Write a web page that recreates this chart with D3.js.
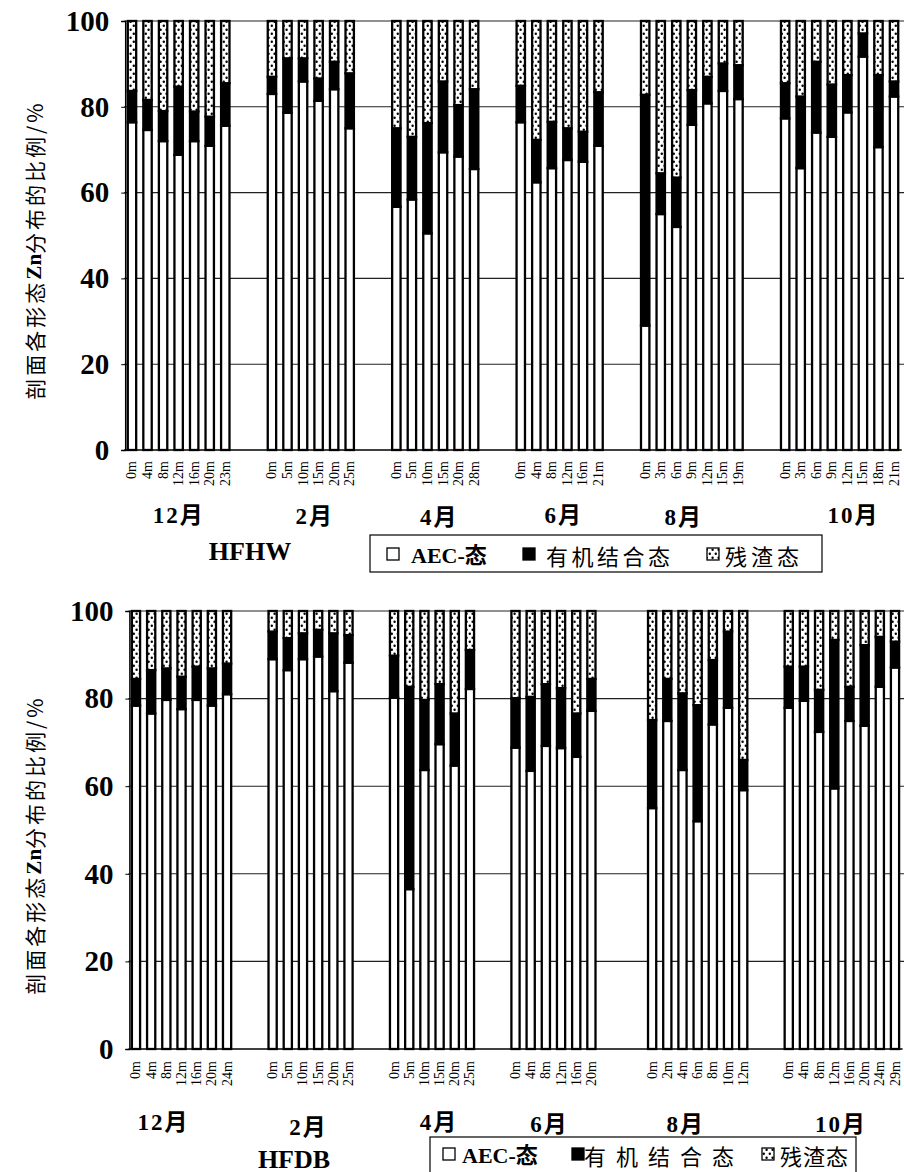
<!DOCTYPE html>
<html>
<head>
<meta charset="utf-8">
<script src="https://cdn.jsdelivr.net/npm/d3@7"></script>
<style>
  body { margin: 0; background: #fff; }
  svg { display: block; }
</style>
</head>
<body>
<svg id="chart" width="904" height="1172"></svg>
<script>
// months and depths per panel
const months = ["12月", "2月", "4月", "6月", "8月", "10月"];

const hfhwDepths = [
  ["0m", "4m", "8m", "12m", "16m", "20m", "23m"],
  ["0m", "5m", "10m", "15m", "20m", "25m"],
  ["0m", "5m", "10m", "15m", "20m", "28m"],
  ["0m", "4m", "8m", "12m", "16m", "21m"],
  ["0m", "3m", "6m", "9m", "12m", "15m", "19m"],
  ["0m", "3m", "6m", "9m", "12m", "15m", "18m", "21m"]
];
const hfdbDepths = [
  ["0m", "4m", "8m", "12m", "16m", "20m", "24m"],
  ["0m", "5m", "10m", "15m", "20m", "25m"],
  ["0m", "5m", "10m", "15m", "20m", "25m"],
  ["0m", "4m", "8m", "12m", "16m", "20m"],
  ["0m", "2m", "4m", "6m", "8m", "10m", "12m"],
  ["0m", "4m", "8m", "12m", "16m", "20m", "24m", "29m"]
];

// AEC-态 share (%)
const hfhwAec = [
  [76.4, 74.6, 72.0, 68.8, 72.0, 70.9, 75.6],
  [83.0, 78.6, 85.9, 81.4, 84.1, 75.0],
  [56.7, 58.4, 50.5, 69.4, 68.4, 65.5],
  [76.4, 62.4, 65.7, 67.6, 67.2, 70.9],
  [29.0, 55.0, 52.0, 75.8, 80.8, 83.7, 81.8],
  [77.3, 65.7, 74.0, 73.0, 78.7, 91.7, 70.6, 82.4]
];
// 有机结合态 share (%)
const hfhwOrg = [
  [7.3, 7.0, 7.0, 15.9, 6.9, 6.8, 9.9],
  [4.0, 12.7, 5.4, 5.2, 6.4, 12.8],
  [18.3, 14.6, 25.7, 16.5, 12.0, 18.6],
  [8.5, 9.9, 10.8, 7.4, 7.0, 12.5],
  [53.8, 9.5, 11.5, 8.1, 6.2, 6.4, 7.9],
  [8.2, 16.7, 16.5, 12.2, 8.7, 5.4, 16.8, 3.5]
];

const hfdbAec = [
  [78.4, 76.6, 79.7, 77.6, 79.7, 78.4, 81.0],
  [89.0, 86.5, 89.0, 89.6, 81.7, 88.2],
  [80.2, 36.5, 63.7, 69.6, 64.7, 82.2],
  [68.8, 63.5, 69.2, 68.7, 66.7, 77.2],
  [55.0, 74.9, 63.7, 52.0, 74.1, 77.9, 59.1],
  [77.9, 79.5, 72.4, 59.5, 74.9, 73.8, 82.7, 87.1]
];
const hfdbOrg = [
  [6.1, 9.9, 7.2, 7.4, 7.6, 8.5, 7.0],
  [6.3, 7.3, 5.9, 6.1, 13.2, 6.3],
  [9.6, 46.2, 16.0, 13.7, 11.9, 8.9],
  [11.3, 16.9, 14.1, 13.7, 9.9, 7.3],
  [20.1, 9.6, 17.5, 26.5, 14.7, 17.4, 6.9],
  [9.4, 7.8, 9.6, 33.9, 7.8, 18.4, 11.4, 5.9]
];

// number of empty slots between month groups
const hfhwGaps = [2, 2, 2, 2, 2];
const hfdbGaps = [2, 2, 2, 3, 2];

const legendLabels = ["AEC-态", "有机结合态", "残渣态"];
const yTicks = [0, 20, 40, 60, 80, 100];

const panels = [
  {
    name: "HFHW", depths: hfhwDepths, aec: hfhwAec, org: hfhwOrg, gaps: hfhwGaps,
    x0: 124.2, x1: 901.8, yBottom: 450, yTop: 21, tickY: 461, monthY: 515,
    monthDx: [0, 4, 4, 4, -8, 14], monthDy: [0, 1, 2, 0, 2, 0],
    nameX: 250, nameY: 551, titleY: 250,
    legend: { x: 370, y: 535, w: 452, h: 37, cy: 554, sq: [387, 523, 707], tx: [411, 546, 725], ls: [0, 3.5, 4] }
  },
  {
    name: "HFDB", depths: hfdbDepths, aec: hfdbAec, org: hfdbOrg, gaps: hfdbGaps,
    x0: 128.4, x1: 902.6, yBottom: 1049, yTop: 611, tickY: 1061, monthY: 1122,
    monthDx: [-18, -2, 7, -4, -12, -1], monthDy: [0, 5, 0, 2, 2, 2],
    nameX: 294, nameY: 1159, titleY: 845,
    legend: { x: 430, y: 1137, w: 426, h: 40, cy: 1154, sq: [443, 572, 762], tx: [462, 584, 780], ls: [0, 10, 1] }
  }
];

const svg = d3.select("#chart");
const serif = "'Liberation Serif', 'Times New Roman', serif";
const cjk = "'Noto Sans CJK SC', sans-serif";

// dotted fill for 残渣态
const defs = svg.append("defs");
const pat = defs.append("pattern")
  .attr("id", "dots")
  .attr("patternUnits", "userSpaceOnUse")
  .attr("width", 6).attr("height", 8);
pat.append("rect").attr("width", 6).attr("height", 8).attr("fill", "#fff");
pat.append("circle").attr("cx", 1.8).attr("cy", 1.8).attr("r", 1.2).attr("fill", "#000");
pat.append("circle").attr("cx", 4.6).attr("cy", 5.8).attr("r", 1.2).attr("fill", "#000");

const fills = ["#fff", "#000", "url(#dots)"];

panels.forEach((p) => {
  // build slot list with blanks between groups
  const slots = [];
  const bars = [];
  p.depths.forEach((ds, gi) => {
    ds.forEach((d, i) => {
      const key = `${gi}-${i}`;
      slots.push(key);
      const a = p.aec[gi][i], o = p.org[gi][i];
      bars.push({ key, depth: d, group: gi, aec: a, org: o, res: 100 - a - o });
    });
    if (gi < p.gaps.length) {
      for (let k = 0; k < p.gaps[gi]; k++) slots.push(`gap${gi}-${k}`);
    }
  });

  const x = d3.scaleBand()
    .domain(slots)
    .range([p.x0, p.x1])
    .paddingInner(0.46)
    .paddingOuter(0.23);
  const y = d3.scaleLinear().domain([0, 100]).range([p.yBottom, p.yTop]);

  // grid lines
  svg.append("g")
    .selectAll("line")
    .data(yTicks.filter((t) => t > 0))
    .join("line")
    .attr("x1", p.x0).attr("x2", 904)
    .attr("y1", (d) => y(d)).attr("y2", (d) => y(d))
    .attr("stroke", "#222").attr("stroke-width", 1.1);

  // bars
  const stack = d3.stack().keys(["aec", "org", "res"]);
  const series = stack(bars);
  svg.append("g")
    .selectAll("g")
    .data(series)
    .join("g")
    .attr("fill", (s, i) => fills[i])
    .selectAll("rect")
    .data((s) => s)
    .join("rect")
    .attr("x", (d) => x(d.data.key))
    .attr("width", x.bandwidth())
    .attr("y", (d) => y(d[1]))
    .attr("height", (d) => y(d[0]) - y(d[1]))
    .attr("stroke", "#000")
    .attr("stroke-width", 2.3);

  // baseline
  svg.append("line")
    .attr("x1", p.x0).attr("x2", p.x1)
    .attr("y1", y(0)).attr("y2", y(0))
    .attr("stroke", "#000").attr("stroke-width", 1.5);

  // y axis
  const yAxis = d3.axisLeft(y).tickValues(yTicks).tickSize(4).tickPadding(12);
  const ga = svg.append("g")
    .attr("transform", `translate(${p.x0 + 1},0)`)
    .call(yAxis);
  ga.select(".domain").attr("stroke", "#000").attr("stroke-width", 1.5);
  ga.selectAll(".tick line").attr("stroke", "#000");
  ga.selectAll(".tick text")
    .attr("font-family", serif)
    .attr("font-weight", "bold")
    .attr("font-size", 29)
    .attr("fill", "#000");

  // depth labels
  svg.append("g")
    .selectAll("text")
    .data(bars)
    .join("text")
    .attr("transform", (d) => `translate(${x(d.key) + x.bandwidth() / 2},${p.tickY}) rotate(-90)`)
    .attr("text-anchor", "end")
    .attr("dominant-baseline", "central")
    .attr("font-family", serif)
    .attr("font-size", 14)
    .text((d) => d.depth);

  // month labels
  svg.append("g")
    .selectAll("text")
    .data(months)
    .join("text")
    .attr("x", (m, gi) => {
      const ks = bars.filter((b) => b.group === gi);
      const c = (x(ks[0].key) + x(ks[ks.length - 1].key) + x.bandwidth()) / 2;
      return c + p.monthDx[gi];
    })
    .attr("y", (m, gi) => p.monthY + p.monthDy[gi])
    .attr("text-anchor", "middle")
    .attr("dominant-baseline", "central")
    .attr("font-family", `${serif}, ${cjk}`)
    .attr("font-weight", "bold")
    .attr("font-size", 23)
    .attr("letter-spacing", 2)
    .text((m) => m);

  // panel name
  svg.append("text")
    .attr("x", p.nameX).attr("y", p.nameY)
    .attr("text-anchor", "middle")
    .attr("dominant-baseline", "central")
    .attr("font-family", serif)
    .attr("font-weight", "bold")
    .attr("font-size", 26)
    .text(p.name);

  // y title
  const tt = svg.append("text")
    .attr("transform", `translate(34,${p.titleY}) rotate(-90)`)
    .attr("text-anchor", "middle")
    .attr("dominant-baseline", "central")
    .attr("font-family", cjk)
    .attr("font-size", 21)
    .attr("letter-spacing", 3);
  tt.append("tspan").text("剖面各形态");
  tt.append("tspan").attr("font-family", serif).attr("font-weight", "bold").attr("letter-spacing", 0).text("Zn");
  tt.append("tspan").text("分布的比例/%");

  // legend
  const L = p.legend;
  const lg = svg.append("g");
  lg.append("rect")
    .attr("x", L.x).attr("y", L.y).attr("width", L.w).attr("height", L.h)
    .attr("fill", "#fff").attr("stroke", "#000").attr("stroke-width", 1.2);
  legendLabels.forEach((lab, i) => {
    lg.append("rect")
      .attr("x", L.sq[i]).attr("y", L.cy - 6).attr("width", 12).attr("height", 12)
      .attr("fill", fills[i]).attr("stroke", "#000").attr("stroke-width", 1.3);
    const t = lg.append("text")
      .attr("x", L.tx[i]).attr("y", L.cy + 1)
      .attr("dominant-baseline", "central")
      .attr("font-size", 22)
      .attr("letter-spacing", L.ls[i]);
    if (i === 0) {
      t.attr("font-family", `${serif}, ${cjk}`).attr("font-weight", "bold").text(lab);
    } else {
      t.attr("font-family", cjk).text(lab);
    }
  });
});
</script>
</body>
</html>
